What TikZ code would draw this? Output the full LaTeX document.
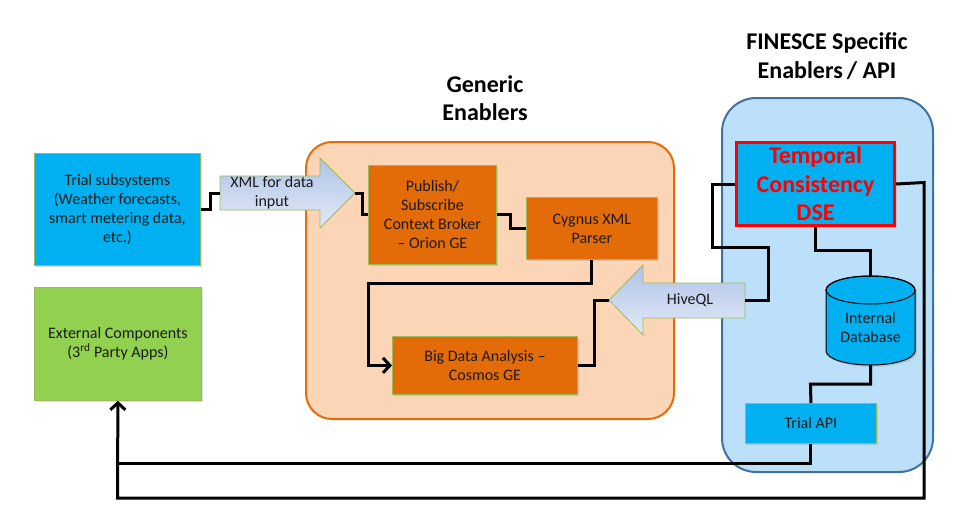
\documentclass[tikz,border=0pt]{standalone}
\usepackage{fontspec}
\setmainfont{Carlito}
\usetikzlibrary{arrows.meta,shadows}
\definecolor{cyanbox}{HTML}{00B0F0}
\definecolor{greenbox}{HTML}{92D050}
\definecolor{orangebox}{HTML}{E36C09}
\definecolor{peach}{HTML}{FBD5B5}
\definecolor{peachborder}{HTML}{E46C0A}
\definecolor{lightblue}{HTML}{BDE0FA}
\definecolor{blueborder}{HTML}{41719C}
\definecolor{olive}{HTML}{9BBB59}
\definecolor{arrowtop}{HTML}{AFC3E8}
\definecolor{arrowbot}{HTML}{E2EAF6}
\definecolor{textdark}{HTML}{1A1A1A}
\tikzset{
  box/.style={anchor=north west, draw=olive, line width=0.8pt, align=center,
    inner sep=2pt, text=textdark, font=\fontsize{16}{19}\selectfont,
    drop shadow={shadow xshift=2pt, shadow yshift=-2pt, opacity=0.25}},
  container/.style={rounded corners=26pt, line width=2pt},
  conn/.style={line width=3pt, line join=miter},
  tip/.style={-{Straight Barb[length=7pt,width=15pt]}},
  blockarrow/.style={draw=olive, line width=0.8pt, top color=arrowtop, bottom color=arrowbot},
  title/.style={align=center, font=\fontsize{24}{28.5}\selectfont\bfseries},
  lbl/.style={align=center, text=textdark, font=\fontsize{16}{19}\selectfont},
}
\begin{document}
\begin{tikzpicture}[x=1pt,y=-1pt]
\useasboundingbox (0,0) rectangle (960,525);

% containers
\draw[container, fill=peach, draw=peachborder] (306,142) rectangle (674,419);
\draw[container, fill=lightblue, draw=blueborder, rounded corners=34pt] (722,98) rectangle (933,472);

% titles
\node[title] (gtitle) at (485,98) {Generic\\Enablers};
\node[title] (ftitle) at (827,56) {FINESCE Specific\\Enablers\,/ API};

% left boxes
\node[box, fill=cyanbox, minimum width=166pt, minimum height=112pt] (trial) at (34,153)
  {Trial subsystems\\(Weather forecasts,\\smart metering data,\\etc.)};
\node[box, fill=greenbox, minimum width=167pt, minimum height=113pt] (ext) at (34,287)
  {External Components\\(3\textsuperscript{rd} Party Apps)};

% generic enablers boxes
\node[box, fill=orangebox, minimum width=128pt, minimum height=99pt] (pub) at (368,165)
  {Publish/\\Subscribe\\Context Broker\\– Orion GE};
\node[box, fill=orangebox, minimum width=131pt, minimum height=62pt] (cyg) at (526,197)
  {Cygnus XML\\Parser};
\node[box, fill=orangebox, minimum width=185pt, minimum height=58pt] (big) at (392,336)
  {Big Data Analysis –\\Cosmos GE};

% FINESCE boxes
\node[box, fill=cyanbox, draw=red, line width=3pt, minimum width=158pt, minimum height=83pt,
  text=red, font=\fontsize{24}{28.5}\selectfont\bfseries] (dse) at (735,141)
  {Temporal\\Consistency\\DSE};
\node[box, fill=cyanbox, minimum width=131pt, minimum height=40pt] (api) at (745,403)
  {Trial API};

% database cylinder
\path[fill=cyanbox, draw=black, line width=1pt, drop shadow={shadow xshift=2pt, shadow yshift=-2pt, opacity=0.25}]
  (826,290) -- (826,351) arc[start angle=180, end angle=360, x radius=44.5pt, y radius=14pt]
  -- (915,290) arc[start angle=0, end angle=180, x radius=44.5pt, y radius=14pt] -- cycle;
\draw[line width=1pt] (870.5,290) ellipse[x radius=44.5pt, y radius=14pt];
\node[lbl] (db) at (870.5,327) {Internal\\Database};
\coordinate (dbtop) at (870.5,276);
\coordinate (dbbot) at (870.5,365);

% block arrows
\path[blockarrow] (220,176) -- (320,176) -- (320,158) -- (355,193) -- (320,228) -- (320,210) -- (220,210) -- cycle;
\node[lbl] (xml) at (272,193) {XML for data\\input};
\coordinate (xmltail) at (220,193);
\coordinate (xmltip) at (355,193);

\path[blockarrow] (745,283) -- (643,283) -- (643,265) -- (609,300) -- (643,335) -- (643,318) -- (745,318) -- cycle;
\node[lbl] (hive) at (690,300) {HiveQL};
\coordinate (hivetip) at (609,300);
\coordinate (hivetail) at (745,300);

% connectors
\draw[conn] (trial.east) -- ++(10,0) |- (xmltail);
\draw[conn] (xmltip) -- ++(7,0) |- (pub.west);
\draw[conn] (pub.east) -- ++(14,0) |- (cyg.west);
\draw[conn, tip] (cyg.south) |- (368,283) |- (big.west);
\draw[conn] (big.east) -- ++(17,0) |- (hivetip);
\draw[conn] (hivetail) -- (768,300) |- (712,247) |- (dse.west);
\draw[conn] (dse.south) |- (870.5,250) -- (dbtop);
\draw[conn] (dbbot) |- (810.5,384) -- (api.north);
\draw[conn] (api.south) |- (ext.south |- 0,463);
\draw[conn, tip] (dse.east) -- (924,182.5) |- (117.5,498) -- (ext.south);
\end{tikzpicture}
\end{document}
